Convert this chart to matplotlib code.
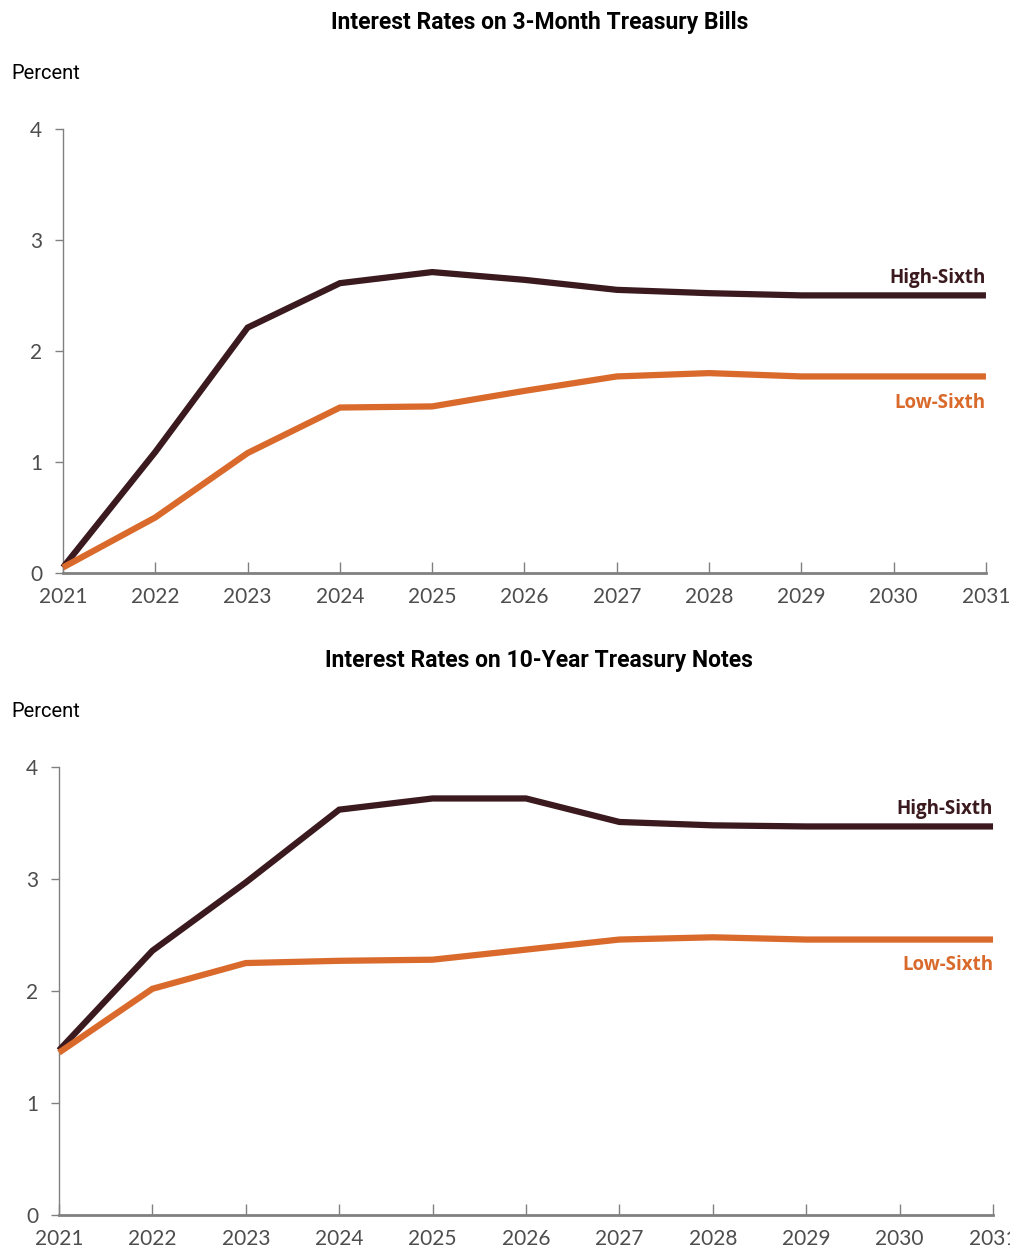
import matplotlib
matplotlib.use("Agg")
import matplotlib.pyplot as plt

years = list(range(2021, 2032))

# 3-month Treasury bill rates, percent
bills_high = [0.05, 1.09, 2.21, 2.61, 2.71, 2.64, 2.55, 2.52, 2.50, 2.50, 2.50]
bills_low = [0.05, 0.50, 1.08, 1.49, 1.50, 1.64, 1.77, 1.80, 1.77, 1.77, 1.77]

# 10-year Treasury note rates, percent
notes_high = [1.47, 2.36, 2.97, 3.62, 3.72, 3.72, 3.51, 3.48, 3.47, 3.47, 3.47]
notes_low = [1.45, 2.02, 2.25, 2.27, 2.28, 2.37, 2.46, 2.48, 2.46, 2.46, 2.46]

titles = ["Interest Rates on 3-Month Treasury Bills",
          "Interest Rates on 10-Year Treasury Notes"]
series_names = ["High-Sixth", "Low-Sixth"]
y_ticks = [0, 1, 2, 3, 4]

HIGH_COLOR = "#3b1a1f"
LOW_COLOR = "#d96a2b"
AXIS_COLOR = "#808080"
TICK_TEXT = "#4d4d4d"

TITLE_FONT = ["Roboto", "DejaVu Sans"]
TICK_FONT = ["Lato", "DejaVu Sans"]
LABEL_FONT = ["Open Sans", "DejaVu Sans"]

fig = plt.figure(figsize=(10.10, 12.51), dpi=100)

panels = [
    dict(rect=[0.0624, 0.542, 0.9138, 0.355], high=bills_high, low=bills_low,
         title_y=0.982, percent_y=0.941, hi_off=0.16, lo_off=-0.24),
    dict(rect=[0.0584, 0.0288, 0.9248, 0.358], high=notes_high, low=notes_low,
         title_y=0.472, percent_y=0.431, hi_off=0.16, lo_off=-0.23),
]

for title, p in zip(titles, panels):
    ax = fig.add_axes(p["rect"])
    ax.plot(years, p["high"], color=HIGH_COLOR, lw=4.5, solid_capstyle="butt",
            solid_joinstyle="miter", zorder=3, clip_on=False)
    ax.plot(years, p["low"], color=LOW_COLOR, lw=4.5, solid_capstyle="butt",
            solid_joinstyle="miter", zorder=3, clip_on=False)
    ax.set_xlim(years[0], years[-1])
    ax.set_ylim(0, 4)
    ax.set_xticks(years)
    ax.set_xticklabels([str(y) for y in years], fontfamily=TICK_FONT,
                       fontsize=15, color=TICK_TEXT)
    ax.set_yticks(y_ticks)
    ax.set_yticklabels([str(v) for v in y_ticks], fontfamily=TICK_FONT,
                       fontsize=15, color=TICK_TEXT)
    for s in ("top", "right"):
        ax.spines[s].set_visible(False)
    ax.spines["left"].set_color(AXIS_COLOR)
    ax.spines["left"].set_linewidth(1.0)
    ax.spines["bottom"].set_color(AXIS_COLOR)
    ax.spines["bottom"].set_linewidth(2.0)
    ax.tick_params(axis="x", direction="in", length=8, width=1.0,
                   color=AXIS_COLOR, pad=10)
    ax.tick_params(axis="y", direction="out", length=6, width=1.0,
                   color=AXIS_COLOR, pad=9)

    ax.text(years[-1], p["high"][-1] + p["hi_off"], series_names[0],
            ha="right", va="center", color=HIGH_COLOR, fontsize=13.5,
            fontweight="bold", fontfamily=LABEL_FONT)
    ax.text(years[-1], p["low"][-1] + p["lo_off"], series_names[1],
            ha="right", va="center", color=LOW_COLOR, fontsize=13.5,
            fontweight="bold", fontfamily=LABEL_FONT)

    fig.text(0.534, p["title_y"], title, ha="center", va="center",
             fontsize=16.5, fontweight="bold", fontfamily=TITLE_FONT, color="black")
    fig.text(0.011, p["percent_y"], "Percent", ha="left", va="center",
             fontsize=14.5, fontfamily=TITLE_FONT, color="black")

fig.savefig("out.png", dpi=100, facecolor="white")
